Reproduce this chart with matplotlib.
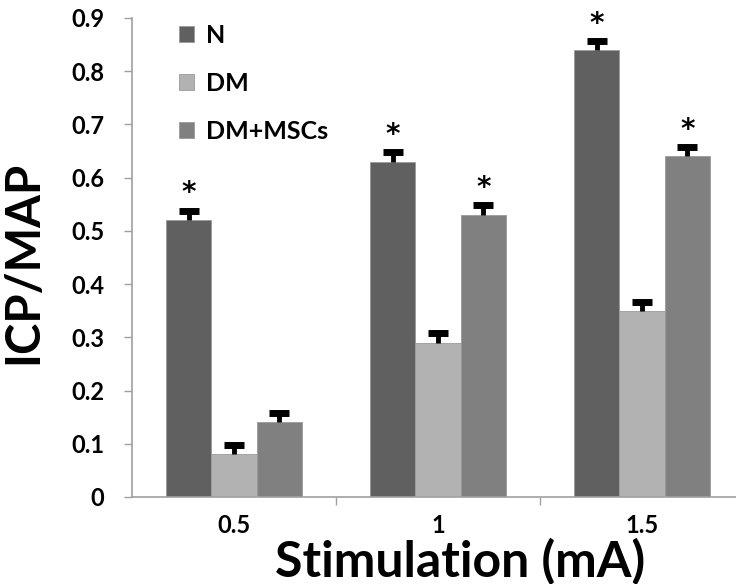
import numpy as np
import matplotlib.pyplot as plt

plt.rcParams['font.family'] = ['Lato', 'DejaVu Sans']
plt.rcParams['font.weight'] = 'bold'

# 数据
categories = ['0.5', '1', '1.5']
groups = ['N', 'DM', 'DM+MSCs']
values = {
    'N': [0.52, 0.63, 0.84],
    'DM': [0.08, 0.29, 0.35],
    'DM+MSCs': [0.14, 0.53, 0.64],
}
errors = {
    'N': [0.018, 0.018, 0.017],
    'DM': [0.018, 0.018, 0.017],
    'DM+MSCs': [0.018, 0.018, 0.017],
}
stars = {
    'N': [True, True, True],
    'DM': [False, False, False],
    'DM+MSCs': [False, True, True],
}
colors = ['#606060', '#b2b2b2', '#808080']

fig = plt.figure(figsize=(7.36, 5.84), dpi=100)
ax = fig.add_axes([132 / 736, 87 / 584, 612 / 736, 479 / 584])

x = np.arange(len(categories))
width = 0.222
for i, g in enumerate(groups):
    pos = x + (i - 1) * width
    v = np.array(values[g])
    e = np.array(errors[g])
    ax.bar(pos, v, width, color=colors[i], edgecolor='#9a9a9a',
           linewidth=0.6, label=g, zorder=2)
    # 只画向上的误差线
    ax.vlines(pos, v, v + e, colors='black', linewidth=3.5, zorder=3)
    ax.plot(pos, v + e, linestyle='none', marker='_', markersize=15,
            markeredgewidth=5, color='black', zorder=3)
    for p, top, s in zip(pos, v + e, stars[g]):
        if s:
            ax.text(p, top + 0.006, '*', ha='center', va='bottom',
                    fontsize=20, fontweight='bold', family='DejaVu Sans')

ax.set_xlim(-0.5, 2.5)
ax.set_ylim(0, 0.9)
ax.set_yticks(np.arange(0, 0.91, 0.1))
ax.set_yticklabels(['0'] + ['%.1f' % t for t in np.arange(0.1, 0.91, 0.1)])
ax.set_xticks(x)
ax.set_xticklabels(categories)
ax.set_xticks([0.5, 1.5], minor=True)
ax.tick_params(axis='x', which='major', length=0, pad=12, labelsize=17)
ax.tick_params(axis='x', which='minor', length=6, color='#a0a0a0', width=1)
ax.tick_params(axis='y', length=6, color='#a0a0a0', width=1, labelsize=17, pad=14)

for side in ['top', 'right']:
    ax.spines[side].set_visible(False)
for side in ['left', 'bottom']:
    ax.spines[side].set_color('#a0a0a0')
    ax.spines[side].set_linewidth(1.2)

ax.set_ylabel('ICP/MAP', fontsize=34, fontweight='bold')
ax.yaxis.set_label_coords(-0.142, 0.49)
ax.set_xlabel('Stimulation (mA)', fontsize=36, fontweight='bold')
ax.xaxis.set_label_coords(0.536, -0.085)

ax.legend(loc='upper left', bbox_to_anchor=(0.04, 1.035), frameon=False,
          fontsize=18, handlelength=0.6, handleheight=0.6, labelspacing=1.0,
          handletextpad=0.5)

fig.savefig('out.png', dpi=100)
